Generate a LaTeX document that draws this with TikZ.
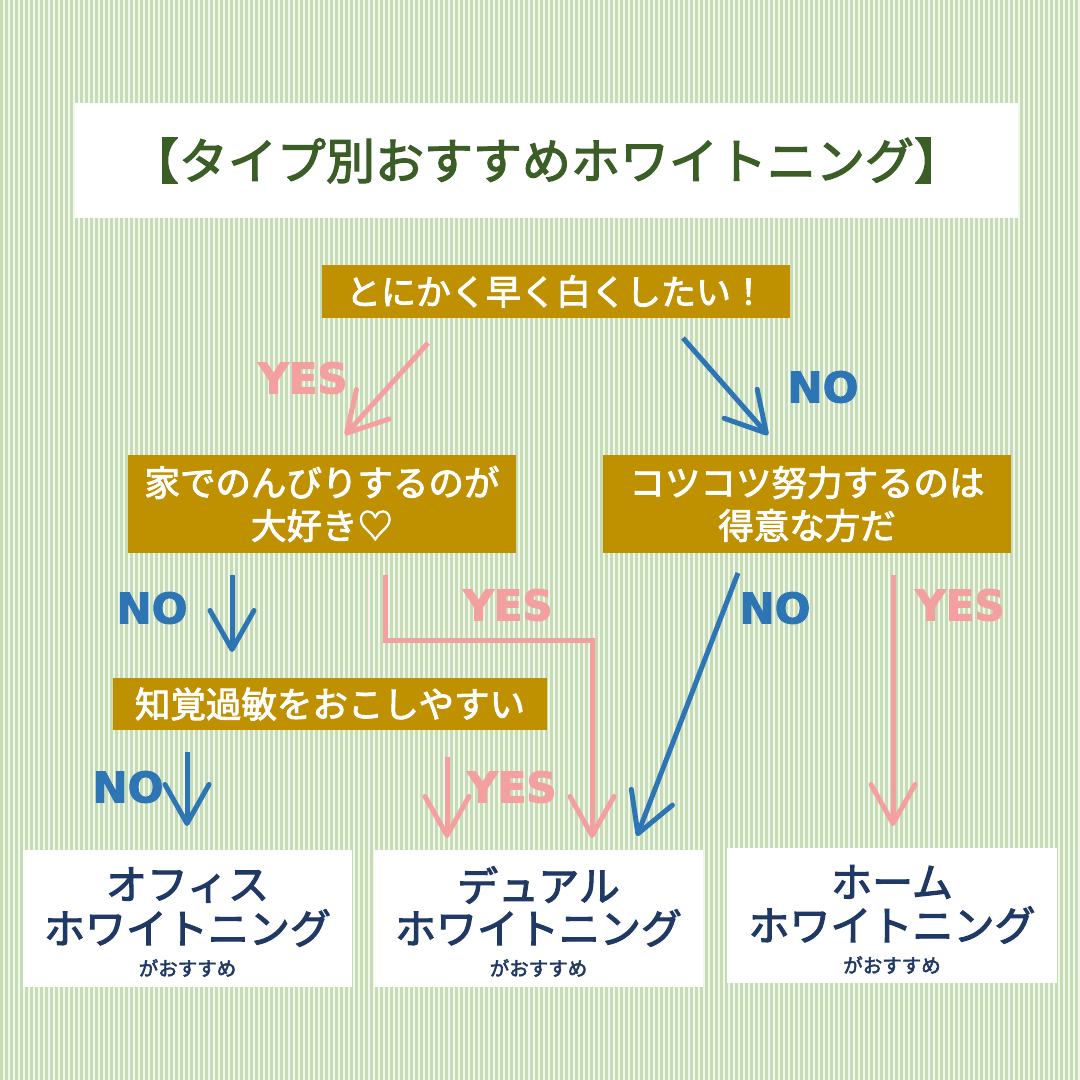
\documentclass[tikz,border=0pt]{standalone}
\usepackage{fontspec}
\usetikzlibrary{arrows.meta,calc}
\newfontfamily\jp{Noto Sans CJK JP}[FakeBold=2.6]
\newfontfamily\lat{DejaVu Sans}[FakeBold=2.5]
\definecolor{bgl}{HTML}{F1F7EC}
\definecolor{bgg}{HTML}{C5DCB4}
\definecolor{gold}{HTML}{BF9000}
\definecolor{tgreen}{HTML}{3B5E27}
\definecolor{navy}{HTML}{1F3864}
\definecolor{pinkc}{HTML}{F5A0A0}
\definecolor{bluec}{HTML}{2E75B6}
\newcommand\jpfont[2]{\jp\fontsize{#1}{#2}\selectfont}
\begin{document}
\begin{tikzpicture}[x=1pt,y=-1pt,
  qbox/.style={fill=gold, text=white, inner sep=0pt, align=center,
    font=\jpfont{35.5}{43}},
  resbox/.style={fill=white, inner sep=0pt, minimum width=329pt, minimum height=137pt},
  restext/.style={text=navy, inner sep=0pt, font=\jpfont{41}{41}},
  ressmall/.style={text=navy, inner sep=0pt, font=\jpfont{19.5}{20}},
  yn/.style={inner sep=0pt, font=\lat\bfseries\fontsize{42}{42}\selectfont},
  yeslab/.style={yn, text=pinkc},
  nolab/.style={yn, text=bluec},
  arr/.style={line width=5pt, -{Straight Barb[length=39pt,width=44pt,line cap=round,line join=round]}},
  yesarr/.style={arr, draw=pinkc},
  noarr/.style={arr, draw=bluec},
  ]
\useasboundingbox (0,0) rectangle (1080,1080);
\fill[bgl] (0,0) rectangle (1080,1080);
\foreach \i in {0,...,215} \fill[bgg] (\i*5,0) rectangle ++(2.6,1080);

% title
\node[fill=white, minimum width=943pt, minimum height=115pt, inner sep=0pt, text=tgreen,
  font=\jpfont{49}{49}] (title) at (546.5,160.5) {【タイプ別おすすめホワイトニング】};

% questions
\node[qbox, minimum width=468pt, minimum height=53pt, font=\jpfont{35}{43}] (q1) at (556,291.5) {とにかく早く白くしたい！};
\node[qbox, minimum width=388pt, minimum height=98pt] (q2) at (322,504) {家でのんびりするのが\\大好き♡};
\node[qbox, minimum width=408pt, minimum height=98pt] (q3) at (807,504) {コツコツ努力するのは\\得意な方だ};
\node[qbox, minimum width=434pt, minimum height=52pt] (q4) at (330,704) {知覚過敏をおこしやすい};

% results
\node[resbox] (r1) at (187.5,918.5) {};
\node[restext] (r1a) at ($(r1)+(0,-33.5)$) {オフィス};
\node[restext] (r1b) at ($(r1)+(0,9.5)$) {ホワイトニング};
\node[ressmall] (r1c) at ($(r1)+(0,49.5)$) {がおすすめ};

\node[resbox] (r2) at (538.5,918.5) {};
\node[restext] (r2a) at ($(r2)+(0,-33.5)$) {デュアル};
\node[restext] (r2b) at ($(r2)+(0,9.5)$) {ホワイトニング};
\node[ressmall] (r2c) at ($(r2)+(0,49.5)$) {がおすすめ};

\node[resbox, minimum width=330pt, minimum height=135pt] (r3) at (892,915.5) {};
\node[restext] (r3a) at ($(r3)+(0,-33.5)$) {ホーム};
\node[restext] (r3b) at ($(r3)+(0,9.5)$) {ホワイトニング};
\node[ressmall] (r3c) at ($(r3)+(0,49.5)$) {がおすすめ};

% connector end points
\coordinate (a1s) at (428,343);  \coordinate (a1e) at (345,435);
\coordinate (b1s) at (683,338);  \coordinate (b1e) at (768,435);
\coordinate (b2s) at (232,575);  \coordinate (b2e) at (232,652);
\coordinate (a2s) at (385,575);  \coordinate (a2m) at (385,640);
\coordinate (a2n) at (592,640);  \coordinate (a2e) at (592,838);
\coordinate (b4s) at (187,752);  \coordinate (b4e) at (187,826);
\coordinate (a4s) at (447,757);  \coordinate (a4e) at (447,838);
\coordinate (b3s) at (738,573);  \coordinate (b3e) at (637,836);
\coordinate (a3s) at (893,575);  \coordinate (a3e) at (893,826);

\draw[yesarr] (a1s) -- (a1e);
\draw[noarr] (b1s) -- (b1e);
\draw[noarr] (b2s) -- (b2e);
\draw[yesarr, line join=miter] (a2s) -- (a2m) -- (a2n) -- (a2e);
\draw[noarr] (b4s) -- (b4e);
\draw[yesarr] (a4s) -- (a4e);
\draw[noarr] (b3s) -- (b3e);
\draw[yesarr] (a3s) -- (a3e);

% labels
\node[yeslab] (l1) at (303,378) {YES};
\node[nolab] (l2) at (823,387) {NO};
\node[nolab] (l3) at (152,608) {NO};
\node[yeslab] (l4) at (508,605) {YES};
\node[nolab] (l5) at (775,608) {NO};
\node[yeslab] (l6) at (960,605) {YES};
\node[nolab] (l7) at (128,787) {NO};
\node[yeslab] (l8) at (512,787) {YES};
\end{tikzpicture}
\end{document}
